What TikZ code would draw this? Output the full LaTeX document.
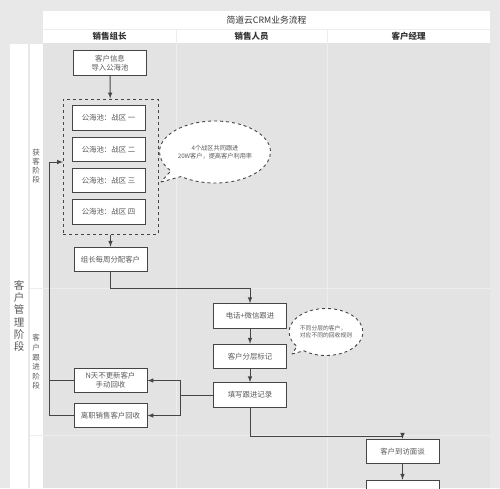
\documentclass[tikz,border=0pt]{standalone}
\usepackage{fontspec}
\setmainfont{Noto Sans CJK SC}
\usetikzlibrary{shapes.callouts}

\definecolor{pagegray}{HTML}{E8E8E8}
\definecolor{lanegray}{HTML}{E3E3E3}
\definecolor{laneline}{HTML}{EDEDED}
\definecolor{boxline}{HTML}{454545}
\definecolor{boxtext}{HTML}{5A5A5A}
\definecolor{headtext}{HTML}{333333}

\tikzstyle{stepbox}=[draw=boxline,fill=white,line width=1pt,text=boxtext,align=center,minimum width=73pt,minimum height=24.5pt,inner sep=1pt,font=\fontsize{7.4}{9.2}\selectfont]
\tikzstyle{poolframe}=[draw=boxline,dashed,line width=1pt,minimum width=95pt,minimum height=135pt]
\tikzstyle{notecloud}=[ellipse callout,draw=boxline,fill=white,dashed,line width=0.9pt,text=boxtext,align=center,font=\fontsize{6.2}{7.6}\selectfont,inner sep=0pt]
\tikzstyle{flowarrow}=[->,>=latex,draw=boxline,line width=1pt]
\tikzstyle{flowline}=[draw=boxline,line width=1pt]
\tikzstyle{headcell}=[text=headtext,font=\fontsize{8.8}{10}\selectfont]
\tikzstyle{stagelabel}=[text=boxtext,align=center]

\begin{document}
\begin{tikzpicture}[x=1pt,y=-1pt]

\useasboundingbox (0,0) rectangle (500,488);
\clip (0,0) rectangle (500,488);
\fill[pagegray] (0,0) rectangle (500,488);

\fill[lanegray] (43,43) rectangle (490,488);
\fill[white] (43,11) rectangle (490,43);
\fill[white] (10,44) rectangle (28,488);
\fill[white] (30,44) rectangle (43,488);
\draw[laneline,line width=0.8pt] (43,29) -- (490,29);
\draw[laneline,line width=0.8pt] (176,29) -- (176,488);
\draw[laneline,line width=0.8pt] (327,29) -- (327,488);
\draw[laneline,line width=0.8pt] (30,288) -- (490,288);
\draw[laneline,line width=0.8pt] (30,435) -- (490,435);

\node[headcell] (title) at (266.5,20) {简道云CRM业务流程};
\node[headcell,font=\fontsize{8.5}{9}\selectfont\bfseries] (leadhead) at (109.5,36) {销售组长};
\node[headcell,font=\fontsize{8.5}{9}\selectfont\bfseries] (salehead) at (251.5,36) {销售人员};
\node[headcell,font=\fontsize{8.5}{9}\selectfont\bfseries] (mgrhead) at (408.5,36) {客户经理};

\node[stagelabel,font=\fontsize{10.5}{12.3}\selectfont] (managestage) at (19,316) {客\\户\\管\\理\\阶\\段};
\node[stagelabel,font=\fontsize{7.5}{9}\selectfont] (getstage) at (36,166.5) {获\\客\\阶\\段};
\node[stagelabel,font=\fontsize{7.5}{9.6}\selectfont] (followstage) at (36,362) {客\\户\\跟\\进\\阶\\段};

\node[stepbox] (info) at (110,63) {客户信息\\导入公海池};
\node[poolframe] (pool) at (110.5,166.5) {};
\node[stepbox] (zone1) at (108.5,118) {公海池：战区 一};
\node[stepbox] (zone2) at (108.5,149.5) {公海池：战区 二};
\node[stepbox] (zone3) at (108.5,180.5) {公海池：战区 三};
\node[stepbox] (zone4) at (108.5,212) {公海池：战区 四};
\node[stepbox] (assign) at (110.5,259.5) {组长每周分配客户};

\node[notecloud,minimum width=111pt,minimum height=62pt,callout absolute pointer={(161,182)}] (poolnote) at (215,152) {4个战区共同跟进\\20W客户，提高客户利用率};

\node[stepbox] (phone) at (250,316) {电话+微信跟进};
\node[stepbox] (layer) at (250,356.5) {客户分层标记};
\node[stepbox] (record) at (250,395) {填写跟进记录};

\node[notecloud,align=left,font=\fontsize{5.8}{7.4}\selectfont,minimum width=68pt,minimum height=47pt,callout absolute pointer={(292,354)}] (layernote) at (326,332) {不同分层的客户，\\对应不同的回收规则};

\node[stepbox] (manual) at (110.5,380.5) {N天不更新客户\\手动回收};
\node[stepbox] (leave) at (110.5,415.5) {离职销售客户回收};

\node[stepbox] (visit) at (402.5,451.5) {客户到访面谈};
\node[stepbox] (next) at (402.5,492.5) {};

\coordinate (split) at (180,395);
\coordinate (backline) at (49,415.5);
\coordinate (poolin) at (63,162);

\draw[flowarrow] (info) -- (pool);
\draw[flowarrow] (pool) -- (assign);
\draw[flowarrow] (assign.south) -- ++(0,16) -| (phone.north);
\draw[flowarrow] (phone) -- (layer);
\draw[flowarrow] (layer) -- (record);
\draw[flowline] (record.west) -- (split);
\draw[flowarrow] (split) |- (manual.east);
\draw[flowarrow] (split) |- (leave.east);
\draw[flowline] (manual.west) -| (backline);
\draw[flowarrow] (leave.west) -- (backline) |- (poolin);
\draw[flowarrow] (record.south) -- ++(0,28.5) -| (visit.north);
\draw[flowarrow] (visit) -- (next);

\end{tikzpicture}
\end{document}
